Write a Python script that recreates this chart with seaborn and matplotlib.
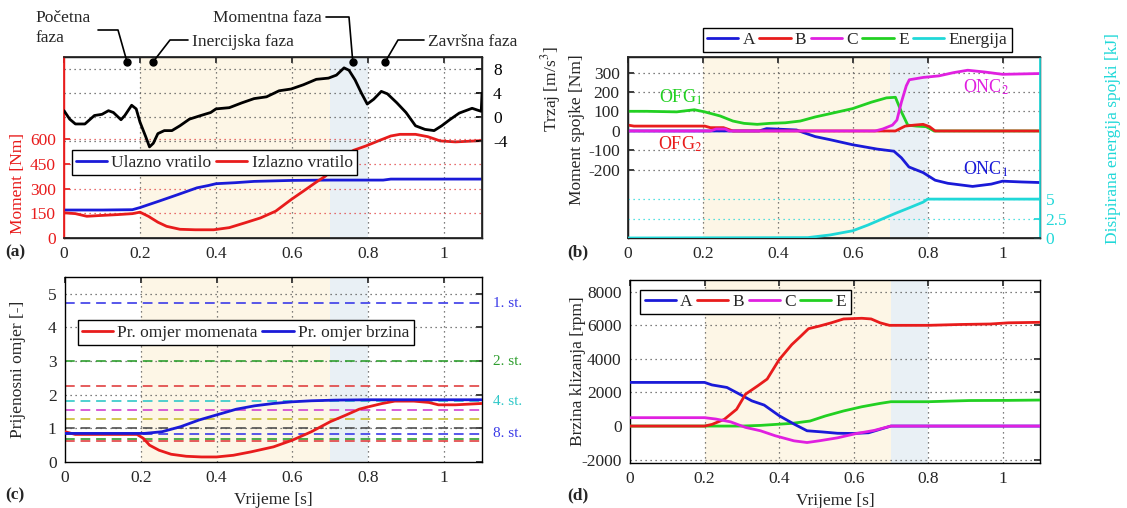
import numpy as np
import pandas as pd
import matplotlib
matplotlib.use("Agg")
import matplotlib.pyplot as plt
from matplotlib.lines import Line2D
import seaborn as sns

# ---------------- data ----------------
# (a) jerk and torques
t_trzaj = [0, 0.015, 0.03, 0.055, 0.08, 0.10, 0.117, 0.13, 0.15, 0.16, 0.178, 0.19, 0.20, 0.215, 0.225,
           0.235, 0.247, 0.264, 0.284, 0.305, 0.33, 0.36, 0.386, 0.40, 0.435, 0.468, 0.50, 0.533, 0.566,
           0.598, 0.63, 0.664, 0.696, 0.717, 0.737, 0.75, 0.766, 0.782, 0.798, 0.815, 0.835, 0.851, 0.876,
           0.90, 0.925, 0.95, 0.974, 0.994, 1.015, 1.04, 1.074, 1.088, 1.098, 1.1]
trzaj = [1.1, -0.3, -1.1, -1.1, 0.3, 0.5, 1.1, 0.8, -0.4, 0.3, 2.0, 1.4, -0.8, -3.2, -4.9,
         -4.3, -2.7, -2.2, -2.2, -1.4, -0.3, 0.3, 0.8, 1.4, 1.6, 2.4, 3.1, 3.4, 4.4,
         4.7, 5.4, 6.3, 6.5, 7.0, 8.2, 7.8, 6.2, 4.1, 2.2, 3.0, 4.3, 3.9, 2.4,
         0.8, -1.4, -2.0, -2.2, -1.4, -0.4, 0.7, 1.5, 1.2, 1.0, 4.0]
t_izl = [0, 0.03, 0.06, 0.09, 0.14, 0.18, 0.2, 0.222, 0.247, 0.27, 0.305, 0.345, 0.394, 0.435, 0.476,
         0.517, 0.557, 0.598, 0.63, 0.664, 0.688, 0.713, 0.737, 0.762, 0.794, 0.827, 0.86, 0.884, 0.925,
         0.957, 0.99, 1.03, 1.1]
izlazno = [153, 148, 132, 136, 142, 148, 157, 132, 96, 71, 53, 50, 50, 63, 92,
           122, 163, 234, 285, 340, 376, 427, 498, 533, 559, 590, 620, 630, 630,
           616, 590, 584, 592]
t_ul = [0, 0.1, 0.18, 0.2, 0.25, 0.3, 0.35, 0.38, 0.4, 0.45, 0.5, 0.6, 0.7, 0.84, 0.86, 1.1]
ulazno = [170, 170, 172, 185, 224, 264, 305, 319, 330, 336, 344, 350, 352, 352, 358, 358]

phase_names = ["Početna\nfaza", "Inercijska faza", "Momentna faza", "Završna faza"]
phase_dots = [0.166, 0.234, 0.76, 0.845]

# (b) clutch torques and dissipated energy
tb_A = [0, 0.35, 0.37, 0.45, 0.468, 0.5, 0.54, 0.6, 0.665, 0.71, 0.73, 0.75, 0.788, 0.82, 0.854,
        0.92, 0.97, 1.0, 1.05, 1.1]
mb_A = [0, 0, 12, 5, -8, -29, -45, -71, -93, -104, -138, -185, -214, -253, -269,
        -285, -273, -258, -262, -265]
tb_B = [0, 0.016, 0.13, 0.205, 0.22, 0.255, 0.28, 0.4, 0.714, 0.74, 0.764, 0.788, 0.805, 0.82, 1.1]
mb_B = [30, 25, 25, 25, 17, 17, 0, 0, 0, 25, 30, 34, 22, 0, 0]
tb_C = [0, 0.22, 0.235, 0.26, 0.27, 0.66, 0.68, 0.706, 0.718, 0.73, 0.743, 0.751, 0.788, 0.83, 0.87,
        0.907, 0.952, 1.0, 1.1]
mb_C = [0, 0, 10, 10, 0, 0, 10, 30, 56, 148, 232, 263, 275, 283, 300,
        312, 303, 291, 295]
tb_E = [0, 0.05, 0.13, 0.177, 0.205, 0.246, 0.28, 0.31, 0.345, 0.378, 0.42, 0.46, 0.5, 0.54, 0.6,
        0.65, 0.69, 0.714, 0.73, 0.747, 0.77, 0.796, 0.817, 1.1]
mb_E = [101, 101, 98, 109, 98, 77, 51, 39, 34, 39, 42, 51, 72, 89, 115,
        148, 170, 173, 98, 30, 25, 22, 0, 0]
tb_en = [0, 0.48, 0.54, 0.6, 0.64, 0.68, 0.714, 0.755, 0.788, 0.8, 1.1]
energija = [0, 0.05, 0.4, 0.94, 1.67, 2.5, 3.2, 4.0, 4.66, 5.05, 5.05]
b_texts = ["OFG$_1$", "OFG$_2$", "ONC$_2$", "ONC$_1$"]
b_text_pos = [(0.14, 173), (0.14, -70), (0.955, 224), (0.955, -199)]

# (c) transmission ratios
tc_mom = [0, 0.027, 0.1, 0.19, 0.207, 0.223, 0.248, 0.28, 0.32, 0.36, 0.40, 0.444, 0.49, 0.55, 0.6,
          0.65, 0.70, 0.74, 0.776, 0.80, 0.837, 0.87, 0.92, 0.96, 0.985, 1.03, 1.1]
omjer_mom = [0.90, 0.82, 0.82, 0.82, 0.70, 0.50, 0.35, 0.23, 0.17, 0.15, 0.15, 0.2, 0.3, 0.45, 0.65,
             0.9, 1.2, 1.39, 1.57, 1.64, 1.74, 1.81, 1.81, 1.77, 1.70, 1.70, 1.74]
tc_brz = [0, 0.19, 0.21, 0.256, 0.305, 0.354, 0.403, 0.452, 0.5, 0.55, 0.6, 0.65, 0.714, 0.8, 1.1]
omjer_brz = [0.85, 0.85, 0.85, 0.9, 1.05, 1.25, 1.41, 1.57, 1.67, 1.74, 1.79, 1.82, 1.84, 1.85, 1.85]
gear_ratios = [4.72, 3.0, 2.25, 1.80, 1.55, 1.27, 1.0, 0.84, 0.68, 0.61]
gear_colors = ["#3a3ae8", "#2e9e2e", "#e04040", "#30c8c8", "#d040d0", "#c8c030", "#505050",
               "#3a3ae8", "#2e9e2e", "#e04040"]
gear_labels = {0: "1. st.", 1: "2. st.", 3: "4. st.", 7: "8. st."}

# (d) slip speeds
td_A = [0, 0.2, 0.22, 0.26, 0.294, 0.327, 0.36, 0.4, 0.44, 0.475, 0.516, 0.557, 0.6, 0.64, 0.67, 0.70, 1.1]
vd_A = [2600, 2600, 2450, 2300, 1900, 1500, 1250, 620, 120, -280, -350, -430, -440, -400, -200, 0, 0]
td_B = [0, 0.2, 0.22, 0.253, 0.286, 0.31, 0.343, 0.368, 0.40, 0.434, 0.458, 0.479, 0.507, 0.54, 0.573,
        0.622, 0.647, 0.671, 0.696, 0.8, 0.885, 0.967, 1.016, 1.1]
vd_B = [0, 0, 100, 400, 1000, 1900, 2400, 2800, 3950, 4850, 5350, 5800, 5950, 6150, 6380,
        6420, 6380, 6150, 6000, 6000, 6050, 6080, 6150, 6180]
td_C = [0, 0.2, 0.23, 0.27, 0.31, 0.35, 0.39, 0.44, 0.475, 0.507, 0.557, 0.606, 0.655, 0.70, 1.1]
vd_C = [500, 500, 420, 250, -80, -280, -580, -880, -980, -880, -700, -450, -260, 0, 0]
td_E = [0, 0.3, 0.35, 0.434, 0.483, 0.524, 0.573, 0.622, 0.671, 0.70, 0.8, 0.91, 1.016, 1.1]
vd_E = [0, 0, 40, 160, 300, 600, 900, 1150, 1350, 1450, 1450, 1520, 1530, 1550]

xticks = [0, 0.2, 0.4, 0.6, 0.8, 1.0]
xticklabels = ["0", "0.2", "0.4", "0.6", "0.8", "1"]

# ---------------- style ----------------
sns.set_theme(style="white")
plt.rcParams["font.family"] = ["Liberation Serif", "DejaVu Serif"]
plt.rcParams["mathtext.fontset"] = "stix"
plt.rcParams["axes.unicode_minus"] = False
FS = 12.5
plt.rcParams["font.size"] = FS

BLUE = "#1a1ad8"
RED = "#e81c1c"
GREEN = "#22d022"
MAG = "#e020e0"
CYAN = "#20d8d8"
YEL_BG = "#fdf6e6"
BLU_BG = "#e9f0f5"
LW = 2.0

W, H = 1127, 508
fig = plt.figure(figsize=(W / 100, H / 100), dpi=100)


def rect(l, t, r, b):
    return [l / W, 1 - b / H, (r - l) / W, (b - t) / H]


ax_a = fig.add_axes(rect(64, 57, 482, 238))
ax_b = fig.add_axes(rect(628, 57, 1040, 238))
ax_c = fig.add_axes(rect(65, 277, 482, 462))
ax_d = fig.add_axes(rect(630, 280, 1040, 463))


def base(ax):
    ax.set_xlim(0, 1.1)
    ax.axvspan(0.2, 0.7, color=YEL_BG, zorder=0, lw=0)
    ax.axvspan(0.7, 0.8, color=BLU_BG, zorder=0, lw=0)
    ax.set_xticks(xticks)
    ax.set_xticklabels(xticklabels)
    for x in xticks[1:]:
        ax.axvline(x, color="#555555", ls=(0, (1, 3)), lw=0.9, zorder=1)
    ax.tick_params(direction="in", length=4, labelsize=FS, top=True, pad=6)
    for s in ax.spines.values():
        s.set_color("black")
        s.set_linewidth(1.0)


def hgrid(ax, vals, color="#555555"):
    for v in vals:
        ax.axhline(v, color=color, ls=(0, (1, 3)), lw=0.9, zorder=1)


def leg(ax, handles, labels, **kw):
    lg = ax.legend(handles, labels, frameon=True, fancybox=False, edgecolor="black",
                   fontsize=FS, handlelength=1.8, handletextpad=0.25, columnspacing=0.25,
                   borderpad=0.25, borderaxespad=0, framealpha=1, **kw)
    lg.get_frame().set_linewidth(1.0)
    return lg


# ---------------- (a) ----------------
base(ax_a)
ax_a.set_ylim(0, 1100)
ax_a.set_yticks([0, 150, 300, 450, 600])
hgrid(ax_a, [150, 300, 450, 600], color="#e04040")
ax_a.tick_params(axis="y", colors=RED, right=False)
ax_a.spines["left"].set_color(RED)
ax_a.set_ylabel("Moment [Nm]", color=RED, fontsize=FS)
ax_a.yaxis.set_label_coords(-0.092, 0.3)
sns.lineplot(x=t_ul, y=ulazno, ax=ax_a, color=BLUE, lw=LW, sort=False, estimator=None, zorder=4)
sns.lineplot(x=t_izl, y=izlazno, ax=ax_a, color=RED, lw=LW, sort=False, estimator=None, zorder=4)
ax_a.set_xticklabels(xticklabels)

ax_a2 = ax_a.twinx()
ax_a2.set_xlim(0, 1.1)
ax_a2.set_ylim(-20, 10)
ax_a2.set_yticks([-4, 0, 4, 8])
hgrid(ax_a2, [-4, 0, 4, 8])
ax_a2.tick_params(direction="in", length=4, labelsize=FS, colors="black", pad=8)
sns.lineplot(x=t_trzaj, y=trzaj, ax=ax_a2, color="black", lw=LW, sort=False, estimator=None, zorder=4)
ax_a2.set_ylabel("Trzaj [m/s$^3$]", fontsize=FS)
ax_a2.yaxis.set_label_coords(1.137, 0.82)
ax_a2.spines["left"].set_color(RED)
leg(ax_a, [Line2D([], [], color=BLUE, lw=LW), Line2D([], [], color=RED, lw=LW)],
    ["Ulazno vratilo", "Izlazno vratilo"], ncol=2, loc="center left", bbox_to_anchor=(0.018, 0.415))

# phase annotations
inv = fig.transFigure.inverted()


def dotpos(x):
    return inv.transform(ax_a.get_xaxis_transform().transform((x, 0.972)))


def P(px, py):
    return (px / W, 1 - py / H)


for x in phase_dots:
    d = dotpos(x)
    fig.add_artist(Line2D([d[0]], [d[1]], marker="o", ms=5, color="black", transform=fig.transFigure))

text_specs = [
    (P(35, 10), "left", "top", [P(98, 30), P(118, 30)]),
    (P(192, 42), "left", "center", [P(188, 40), P(170, 40)]),
    (P(322, 18), "right", "center", [P(326, 17), P(349, 17)]),
    (P(428, 42), "left", "center", [P(424, 40), P(398, 40)]),
]
for name, x, (tp, ha, va, pts) in zip(phase_names, phase_dots, text_specs):
    fig.text(tp[0], tp[1], name, ha=ha, va=va, fontsize=FS, linespacing=1.3)
    d = dotpos(x)
    xs = [p[0] for p in pts] + [d[0]]
    ys = [p[1] for p in pts] + [d[1]]
    fig.add_artist(Line2D(xs, ys, color="black", lw=1.2, transform=fig.transFigure))

# ---------------- (b) ----------------
base(ax_b)
ax_b.set_ylim(-550, 380)
ax_b.set_yticks([-200, -100, 0, 100, 200, 300])
hgrid(ax_b, [-200, -100, 0, 100, 200, 300])
ax_b.tick_params(axis="y", right=True)
for tt, vv, cc in [(tb_A, mb_A, BLUE), (tb_E, mb_E, GREEN), (tb_B, mb_B, RED), (tb_C, mb_C, MAG)]:
    sns.lineplot(x=tt, y=vv, ax=ax_b, color=cc, lw=LW, sort=False, estimator=None, zorder=4)
ax_b.set_xticklabels(xticklabels)
ax_b.set_ylabel("Moment spojke [Nm]", fontsize=FS)
ax_b.yaxis.set_label_coords(-0.104, 0.6)
for txt, (x, y), cc in zip(b_texts, b_text_pos, [GREEN, RED, MAG, BLUE]):
    ax_b.text(x, y, txt, color=cc, ha="center", va="center", fontsize=FS + 0.5, zorder=5)

ax_b2 = ax_b.twinx()
ax_b2.set_xlim(0, 1.1)
ax_b2.set_ylim(0, 23.5)
ax_b2.set_yticks([0, 2.5, 5])
ax_b2.set_yticklabels(["0", "2.5", "5"])
hgrid(ax_b2, [2.5, 5], color=CYAN)
ax_b2.tick_params(direction="in", length=4, labelsize=FS, colors=CYAN, pad=4)
ax_b2.spines["right"].set_color(CYAN)
sns.lineplot(x=tb_en, y=energija, ax=ax_b2, color=CYAN, lw=LW, sort=False, estimator=None, zorder=4)
ax_b2.set_ylabel("Disipirana energija spojki [kJ]", color=CYAN, fontsize=FS)
ax_b2.yaxis.set_label_coords(1.157, 0.55)
leg(ax_b, [Line2D([], [], color=c, lw=LW) for c in [BLUE, RED, MAG, GREEN, CYAN]],
    ["A", "B", "C", "E", "Energija"], ncol=5, loc="center", bbox_to_anchor=(0.556, 1.094))

# ---------------- (c) ----------------
base(ax_c)
ax_c.set_ylim(0, 5.5)
ax_c.set_yticks([0, 1, 2, 3, 4, 5])
hgrid(ax_c, [1, 2, 3, 4, 5])
ax_c.tick_params(axis="y", right=True)
for i, (g, c) in enumerate(zip(gear_ratios, gear_colors)):
    ax_c.axhline(g, color=c, ls=(0, (5, 3)), lw=1.4, alpha=0.85, zorder=2)
    if i in gear_labels:
        ax_c.text(1.13, g, gear_labels[i], color=c, ha="left", va="center",
                  fontsize=FS - 1.5, transform=ax_c.transData, clip_on=False)
sns.lineplot(x=tc_mom, y=omjer_mom, ax=ax_c, color=RED, lw=LW, sort=False, estimator=None, zorder=4)
sns.lineplot(x=tc_brz, y=omjer_brz, ax=ax_c, color=BLUE, lw=LW, sort=False, estimator=None, zorder=4)
ax_c.set_xticklabels(xticklabels)
ax_c.set_ylabel("Prijenosni omjer [-]", fontsize=FS)
ax_c.yaxis.set_label_coords(-0.094, 0.5)
ax_c.set_xlabel("Vrijeme [s]", fontsize=FS)
leg(ax_c, [Line2D([], [], color=RED, lw=LW), Line2D([], [], color=BLUE, lw=LW)],
    ["Pr. omjer momenata", "Pr. omjer brzina"], ncol=2, loc="center left", bbox_to_anchor=(0.03, 0.7))

# ---------------- (d) ----------------
base(ax_d)
ax_d.set_ylim(-2200, 8700)
ax_d.set_yticks([-2000, 0, 2000, 4000, 6000, 8000])
hgrid(ax_d, [-2000, 2000, 4000, 6000, 8000])
ax_d.tick_params(axis="y", right=True)
for tt, vv, cc in [(td_E, vd_E, GREEN), (td_A, vd_A, BLUE), (td_B, vd_B, RED), (td_C, vd_C, MAG)]:
    sns.lineplot(x=tt, y=vv, ax=ax_d, color=cc, lw=LW, sort=False, estimator=None, zorder=4)
ax_d.set_xticklabels(xticklabels)
ax_d.set_ylabel("Brzina klizanja [rpm]", fontsize=FS)
ax_d.yaxis.set_label_coords(-0.107, 0.5)
ax_d.set_xlabel("Vrijeme [s]", fontsize=FS)
leg(ax_d, [Line2D([], [], color=c, lw=LW) for c in [BLUE, RED, MAG, GREEN]],
    ["A", "B", "C", "E"], ncol=4, loc="center left", bbox_to_anchor=(0.025, 0.88))

# panel labels
for lab, (px, py) in zip(["(a)", "(b)", "(c)", "(d)"], [(15, 252), (578, 252), (15, 495), (578, 495)]):
    fig.text(px / W, 1 - py / H, lab, ha="center", va="center", fontsize=FS, fontweight="bold")

fig.savefig("out.png", dpi=100)
